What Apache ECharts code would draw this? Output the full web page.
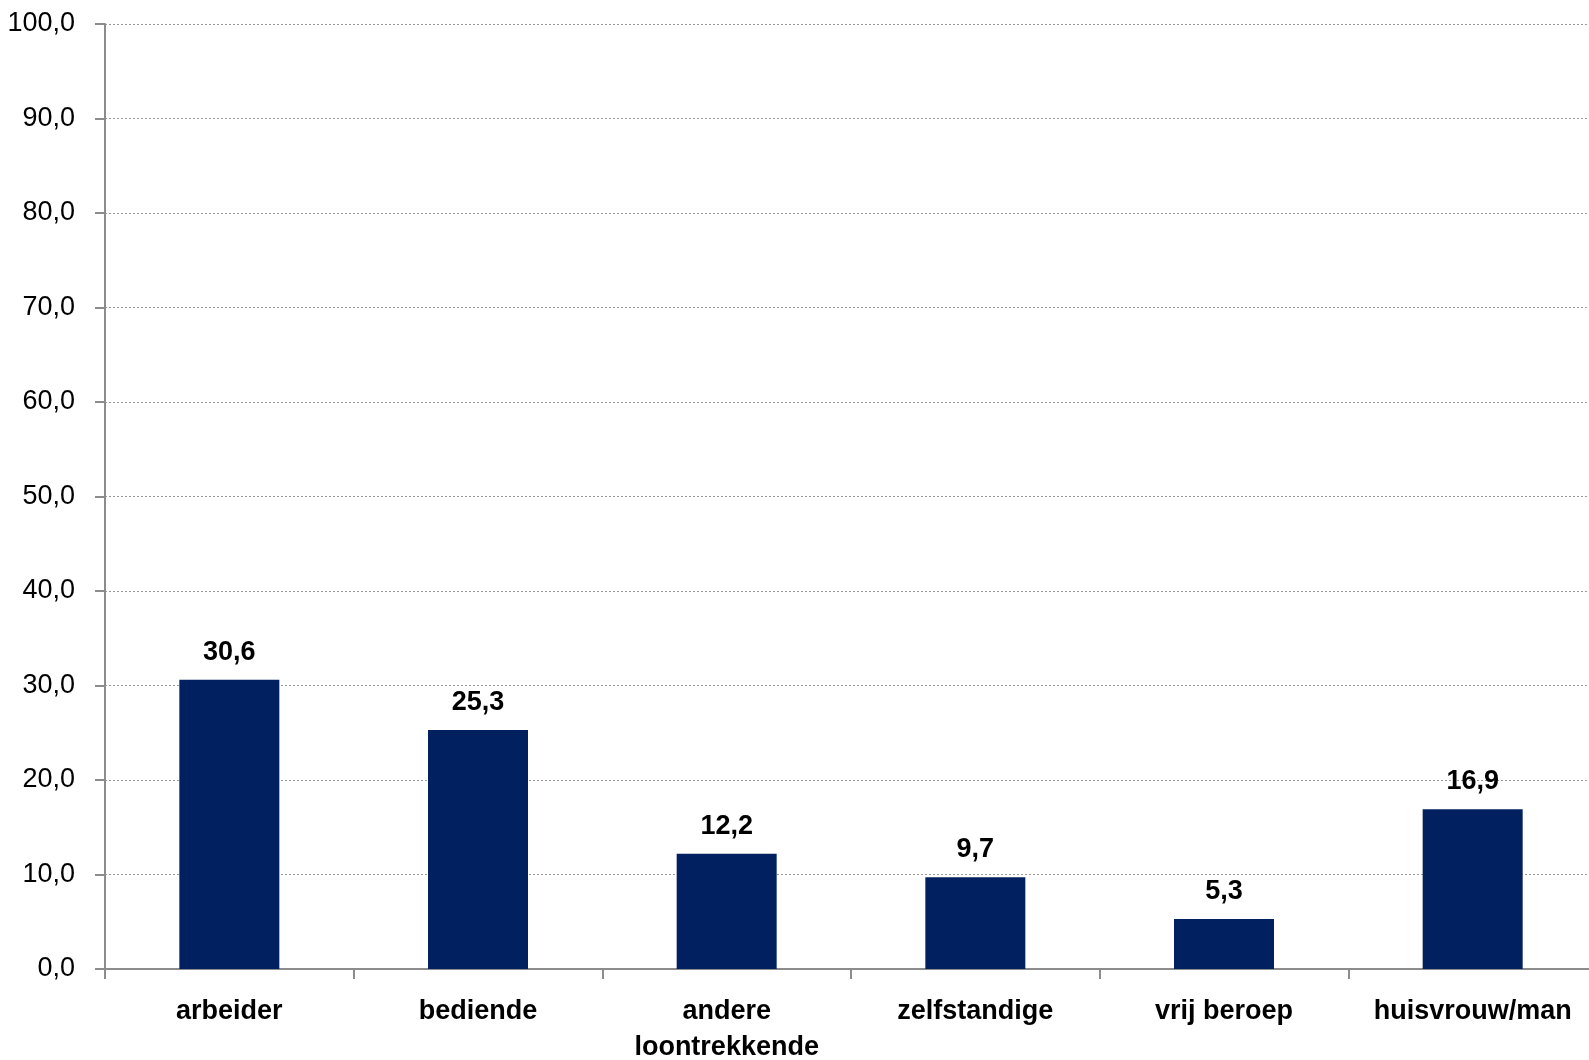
<!DOCTYPE html>
<html>
<head>
<meta charset="utf-8">
<script src="https://cdn.jsdelivr.net/npm/echarts@6/dist/echarts.min.js"></script>
<style>
html,body{margin:0;padding:0;background:#fff;overflow:hidden;}
#chart{width:1597px;height:1060px;}
</style>
</head>
<body>
<div id="chart"></div>
<script>
const categories = ['arbeider', 'bediende', 'andere\nloontrekkende', 'zelfstandige', 'vrij beroep', 'huisvrouw/man'];
const values = [30.6, 25.3, 12.2, 9.7, 5.3, 16.9];
const yTicks = { min: 0, max: 100, interval: 10 };

const fam = '"Liberation Sans Narrow", "Arial Narrow", "Liberation Sans", Arial, sans-serif';
const chart = echarts.init(document.getElementById('chart'));
chart.setOption({
  backgroundColor: '#fff',
  animation: false,
  grid: { left: 105, right: 0, top: 24, bottom: 91, containLabel: false, outerBoundsMode: 'none' },
  xAxis: {
    type: 'category',
    data: categories,
    axisLine: { show: true, lineStyle: { color: '#8c8c8c', width: 2 } },
    axisTick: { show: true, length: 10, lineStyle: { color: '#8c8c8c', width: 2 } },
    axisLabel: {
      interval: 0, margin: 25, color: '#000', fontFamily: fam, fontWeight: 'bold',
      fontSize: 27, lineHeight: 36
    },
    splitLine: { show: false }
  },
  yAxis: {
    type: 'value',
    min: yTicks.min, max: yTicks.max, interval: yTicks.interval,
    axisLine: { show: true, lineStyle: { color: '#8c8c8c', width: 2 } },
    axisTick: { show: true, length: 10, lineStyle: { color: '#8c8c8c', width: 2 } },
    axisLabel: {
      margin: 30, color: '#000', fontFamily: fam, fontSize: 27,
      padding: [5, 0, 0, 0],
      formatter: v => v.toFixed(1).replace('.', ',')
    },
    splitLine: { show: true, lineStyle: { color: '#999', width: 1, type: [2, 2] } }
  },
  series: [{
    type: 'bar',
    data: values,
    barWidth: 100,
    itemStyle: { color: '#002060' },
    label: {
      show: true, position: 'top', distance: 14, color: '#000',
      fontFamily: fam, fontWeight: 'bold', fontSize: 27,
      formatter: p => p.value.toFixed(1).replace('.', ',')
    }
  }]
});
</script>
</body>
</html>
